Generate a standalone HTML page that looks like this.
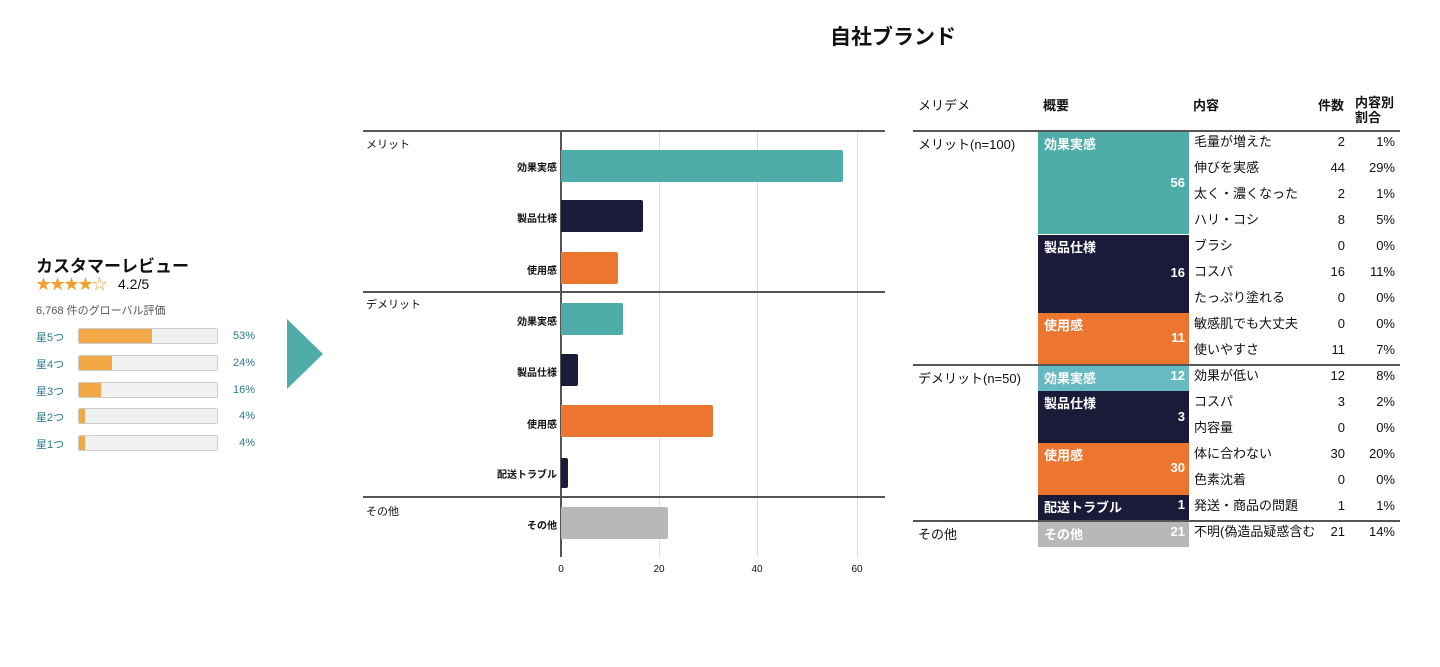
<!DOCTYPE html>
<html><head><meta charset="utf-8"><style>
body{margin:0;width:1440px;height:667px;background:#fff;position:relative;overflow:hidden;font-family:"Liberation Sans","Noto Sans CJK JP",sans-serif;color:#111}
.a{position:absolute;white-space:nowrap}
.line{position:absolute;height:2px;background:#555}
.cl{position:absolute;font-size:10px;font-weight:bold;text-align:right;width:150px;left:407px}
.bar{position:absolute;left:561px;border-radius:0 2px 2px 0}
.grid{position:absolute;top:131px;height:426px;width:1px;background:#ddd}
.tick{position:absolute;top:564px;font-size:10px;width:30px;text-align:center}
.tr{position:absolute;font-size:13px;height:26px;line-height:26px}
.blk{position:absolute;left:1038px;width:151px;color:#fff;font-weight:bold;font-size:13px}
.blk .t{position:absolute;left:6px;top:2px}
.blk .n{position:absolute;right:4px}
.rbar{position:absolute;left:78px;width:138px;height:14px;background:#f0f2f2;border:1px solid #ccc;border-radius:2px;overflow:hidden}
.rbar div{height:100%;background:#f3a847}
.sl{position:absolute;left:36px;font-size:11px;color:#2a7a8c}
.pc{position:absolute;width:40px;left:215px;text-align:right;font-size:11px;color:#2a7a8c}
</style></head><body>
<div class="a" style="left:0;width:1786px;text-align:center;top:21px;font-size:21px;font-weight:bold">自社ブランド</div>

<div class="a" style="left:36px;top:252px;font-size:17px;font-weight:bold">カスタマーレビュー</div>
<div class="a" style="left:36px;top:276px;font-size:15px;line-height:18px;color:#f0a030;letter-spacing:-1px">★★★★☆</div>
<div class="a" style="left:118px;top:276px;font-size:14px">4.2/5</div>
<div class="a" style="left:36px;top:302px;font-size:11px;color:#555">6,768 件のグローバル評価</div>
<div class="sl" style="top:329px">星5つ</div><div class="rbar" style="top:328px"><div style="width:53%"></div></div><div class="pc" style="top:330px">53%</div>
<div class="sl" style="top:356px">星4つ</div><div class="rbar" style="top:355px"><div style="width:24%"></div></div><div class="pc" style="top:357px">24%</div>
<div class="sl" style="top:383px">星3つ</div><div class="rbar" style="top:382px"><div style="width:16%"></div></div><div class="pc" style="top:384px">16%</div>
<div class="sl" style="top:409px">星2つ</div><div class="rbar" style="top:408px"><div style="width:4%"></div></div><div class="pc" style="top:410px">4%</div>
<div class="sl" style="top:436px">星1つ</div><div class="rbar" style="top:435px"><div style="width:4%"></div></div><div class="pc" style="top:437px">4%</div>
<svg class="a" style="left:0;top:0" width="340" height="420"><polygon points="287,319 323,354 287,389" fill="#4fada9"/></svg>

<div class="grid" style="left:659px"></div><div class="grid" style="left:757px"></div><div class="grid" style="left:857px"></div>
<div class="line" style="left:363px;width:522px;top:130px"></div>
<div class="line" style="left:363px;width:522px;top:291px"></div>
<div class="line" style="left:363px;width:522px;top:496px"></div>
<div class="a" style="left:560px;top:131px;width:2px;height:426px;background:#555"></div>
<div class="a" style="left:366px;top:136px;font-size:11px">メリット</div>
<div class="a" style="left:366px;top:296px;font-size:11px">デメリット</div>
<div class="a" style="left:366px;top:503px;font-size:11px">その他</div>
<div class="cl" style="top:159px">効果実感</div><div class="bar" style="top:150px;height:32px;width:282px;background:#4fada9"></div>
<div class="cl" style="top:210px">製品仕様</div><div class="bar" style="top:200px;height:32px;width:82px;background:#1b1a38"></div>
<div class="cl" style="top:262px">使用感</div><div class="bar" style="top:252px;height:32px;width:57px;background:#ec7630"></div>
<div class="cl" style="top:313px">効果実感</div><div class="bar" style="top:303px;height:32px;width:62px;background:#4fada9"></div>
<div class="cl" style="top:364px">製品仕様</div><div class="bar" style="top:354px;height:32px;width:17px;background:#1b1a38"></div>
<div class="cl" style="top:416px">使用感</div><div class="bar" style="top:405px;height:32px;width:152px;background:#ec7630"></div>
<div class="cl" style="top:466px">配送トラブル</div><div class="bar" style="top:458px;height:30px;width:7px;background:#1b1a38"></div>
<div class="cl" style="top:517px">その他</div><div class="bar" style="top:507px;height:32px;width:107px;background:#b8b8b8"></div>
<div class="tick" style="left:546px">0</div><div class="tick" style="left:644px">20</div><div class="tick" style="left:742px">40</div><div class="tick" style="left:842px">60</div>

<div class="a" style="left:918px;top:95px;font-size:13px">メリデメ</div>
<div class="a" style="left:1043px;top:95px;font-size:13px;font-weight:bold">概要</div>
<div class="a" style="left:1193px;top:95px;font-size:13px;font-weight:bold">内容</div>
<div class="a" style="left:1318px;top:95px;font-size:13px;font-weight:bold">件数</div>
<div class="a" style="left:1355px;top:95px;font-size:13px;font-weight:bold;line-height:15px">内容別<br>割合</div>
<div class="line" style="left:913px;width:487px;top:130px"></div>
<div class="line" style="left:913px;width:487px;top:364px"></div>
<div class="line" style="left:913px;width:487px;top:520px"></div>
<div class="a" style="left:918px;top:134px;font-size:13px">メリット(n=100)</div>
<div class="a" style="left:918px;top:368px;font-size:13px">デメリット(n=50)</div>
<div class="a" style="left:918px;top:524px;font-size:13px">その他</div>

<div class="blk" style="top:132px;height:102px;background:#4fada9"><span class="t">効果実感</span><span class="n" style="top:43px">56</span></div>
<div class="blk" style="top:235px;height:78px;background:#1b1a38"><span class="t">製品仕様</span><span class="n" style="top:30px">16</span></div>
<div class="blk" style="top:313px;height:51px;background:#ec7630"><span class="t">使用感</span><span class="n" style="top:17px">11</span></div>
<div class="blk" style="top:366px;height:25px;background:#67bac2"><span class="t">効果実感</span><span class="n" style="top:2px">12</span></div>
<div class="blk" style="top:391px;height:52px;background:#1b1a38"><span class="t">製品仕様</span><span class="n" style="top:18px">3</span></div>
<div class="blk" style="top:443px;height:52px;background:#ec7630"><span class="t">使用感</span><span class="n" style="top:17px">30</span></div>
<div class="blk" style="top:495px;height:25px;background:#1b1a38"><span class="t">配送トラブル</span><span class="n" style="top:2px">1</span></div>
<div class="blk" style="top:522px;height:25px;background:#b8b8b8"><span class="t">その他</span><span class="n" style="top:2px">21</span></div>

<div class="tr" style="left:1194px;top:129px">毛量が増えた</div><div class="tr" style="left:1300px;width:45px;text-align:right;top:129px">2</div><div class="tr" style="left:1340px;width:55px;text-align:right;top:129px">1%</div>
<div class="tr" style="left:1194px;top:155px">伸びを実感</div><div class="tr" style="left:1300px;width:45px;text-align:right;top:155px">44</div><div class="tr" style="left:1340px;width:55px;text-align:right;top:155px">29%</div>
<div class="tr" style="left:1194px;top:181px">太く・濃くなった</div><div class="tr" style="left:1300px;width:45px;text-align:right;top:181px">2</div><div class="tr" style="left:1340px;width:55px;text-align:right;top:181px">1%</div>
<div class="tr" style="left:1194px;top:207px">ハリ・コシ</div><div class="tr" style="left:1300px;width:45px;text-align:right;top:207px">8</div><div class="tr" style="left:1340px;width:55px;text-align:right;top:207px">5%</div>
<div class="tr" style="left:1194px;top:233px">ブラシ</div><div class="tr" style="left:1300px;width:45px;text-align:right;top:233px">0</div><div class="tr" style="left:1340px;width:55px;text-align:right;top:233px">0%</div>
<div class="tr" style="left:1194px;top:259px">コスパ</div><div class="tr" style="left:1300px;width:45px;text-align:right;top:259px">16</div><div class="tr" style="left:1340px;width:55px;text-align:right;top:259px">11%</div>
<div class="tr" style="left:1194px;top:285px">たっぷり塗れる</div><div class="tr" style="left:1300px;width:45px;text-align:right;top:285px">0</div><div class="tr" style="left:1340px;width:55px;text-align:right;top:285px">0%</div>
<div class="tr" style="left:1194px;top:311px">敏感肌でも大丈夫</div><div class="tr" style="left:1300px;width:45px;text-align:right;top:311px">0</div><div class="tr" style="left:1340px;width:55px;text-align:right;top:311px">0%</div>
<div class="tr" style="left:1194px;top:337px">使いやすさ</div><div class="tr" style="left:1300px;width:45px;text-align:right;top:337px">11</div><div class="tr" style="left:1340px;width:55px;text-align:right;top:337px">7%</div>
<div class="tr" style="left:1194px;top:363px">効果が低い</div><div class="tr" style="left:1300px;width:45px;text-align:right;top:363px">12</div><div class="tr" style="left:1340px;width:55px;text-align:right;top:363px">8%</div>
<div class="tr" style="left:1194px;top:389px">コスパ</div><div class="tr" style="left:1300px;width:45px;text-align:right;top:389px">3</div><div class="tr" style="left:1340px;width:55px;text-align:right;top:389px">2%</div>
<div class="tr" style="left:1194px;top:415px">内容量</div><div class="tr" style="left:1300px;width:45px;text-align:right;top:415px">0</div><div class="tr" style="left:1340px;width:55px;text-align:right;top:415px">0%</div>
<div class="tr" style="left:1194px;top:441px">体に合わない</div><div class="tr" style="left:1300px;width:45px;text-align:right;top:441px">30</div><div class="tr" style="left:1340px;width:55px;text-align:right;top:441px">20%</div>
<div class="tr" style="left:1194px;top:467px">色素沈着</div><div class="tr" style="left:1300px;width:45px;text-align:right;top:467px">0</div><div class="tr" style="left:1340px;width:55px;text-align:right;top:467px">0%</div>
<div class="tr" style="left:1194px;top:493px">発送・商品の問題</div><div class="tr" style="left:1300px;width:45px;text-align:right;top:493px">1</div><div class="tr" style="left:1340px;width:55px;text-align:right;top:493px">1%</div>
<div class="tr" style="left:1194px;top:519px">不明(偽造品疑惑含む</div><div class="tr" style="left:1300px;width:45px;text-align:right;top:519px">21</div><div class="tr" style="left:1340px;width:55px;text-align:right;top:519px">14%</div>
</body></html>
